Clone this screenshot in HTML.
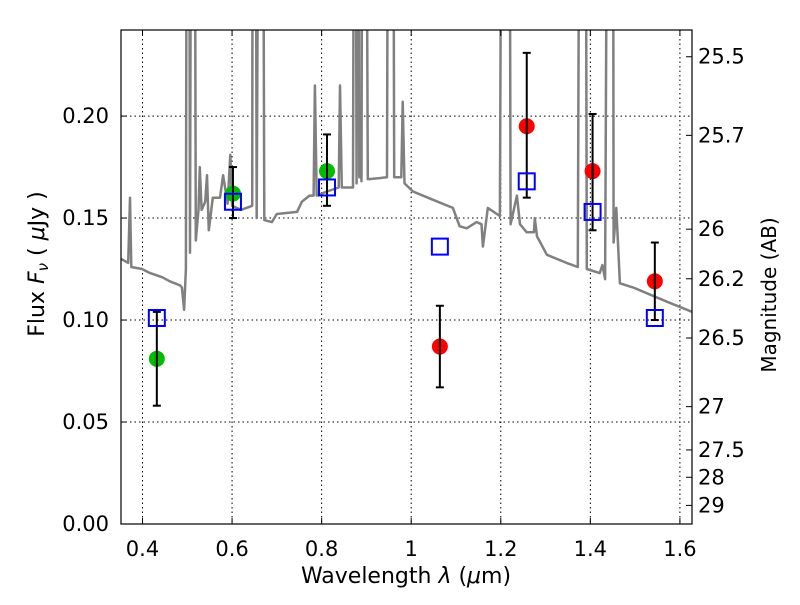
<!DOCTYPE html>
<html><head><meta charset="utf-8"><style>
body{margin:0;background:#fff;}
svg text{font-family:"DejaVu Sans","Liberation Sans",sans-serif;}
</style></head><body>
<svg id="chart" width="800" height="600" xmlns="http://www.w3.org/2000/svg">
<defs><clipPath id="clip"><rect x="121" y="30" width="571" height="494"/></clipPath></defs>
<g id="grid"></g>
<g id="spec" clip-path="url(#clip)"></g>
<g id="marks" clip-path="url(#clip)"></g>
<rect x="121" y="30" width="571" height="494" fill="none" stroke="#000" stroke-width="1.2"/>
<g id="axes"></g>
<text x="406" y="583" font-size="22" text-anchor="middle">Wavelength  <tspan font-style="italic">λ</tspan> (<tspan font-style="italic">μ</tspan>m)</text>
<text transform="translate(44,264) rotate(-90)" font-size="22" text-anchor="middle">Flux  <tspan font-style="italic">F<tspan font-size="15" dy="4">ν</tspan></tspan><tspan dy="-4">  ( </tspan><tspan font-style="italic">μ</tspan>Jy )</text>
<text transform="translate(776,295) rotate(-90)" font-size="20" text-anchor="middle">Magnitude (AB)</text>
</svg>
<script>
const specWave=[0.352,0.368,0.372,0.375,0.399,0.417,0.444,0.461,0.484,0.488,0.493,0.497,0.500,0.503,0.506,0.510,0.515,0.519,0.525,0.528,0.532,0.540,0.544,0.548,0.557,0.573,0.580,0.590,0.596,0.600,0.620,0.645,0.647,0.651,0.655,0.662,0.667,0.672,0.689,0.700,0.745,0.756,0.773,0.782,0.785,0.789,0.812,0.838,0.841,0.845,0.870,0.874,0.878,0.881,0.884,0.886,0.889,0.892,0.897,0.903,0.946,0.950,0.958,0.962,0.978,0.981,0.985,1.004,1.048,1.093,1.108,1.124,1.146,1.157,1.160,1.171,1.198,1.204,1.218,1.222,1.236,1.243,1.258,1.274,1.276,1.281,1.303,1.347,1.372,1.378,1.388,1.392,1.421,1.427,1.433,1.441,1.450,1.452,1.458,1.466,1.495,1.571,1.627];
const specFlux=[0.130,0.128,0.160,0.126,0.125,0.123,0.121,0.119,0.117,0.116,0.105,0.125,0.5,0.5,0.133,0.5,0.5,0.139,0.154,0.175,0.154,0.158,0.171,0.144,0.160,0.160,0.171,0.157,0.181,0.156,0.154,0.156,0.5,0.5,0.150,0.5,0.5,0.149,0.148,0.152,0.153,0.158,0.161,0.161,0.215,0.161,0.163,0.165,0.215,0.165,0.165,0.5,0.167,0.5,0.170,0.183,0.168,0.5,0.5,0.169,0.170,0.5,0.5,0.170,0.170,0.207,0.167,0.163,0.159,0.155,0.146,0.145,0.148,0.147,0.136,0.155,0.151,0.5,0.5,0.147,0.161,0.147,0.143,0.143,0.150,0.141,0.132,0.128,0.126,0.5,0.5,0.125,0.123,0.127,0.120,0.5,0.5,0.138,0.155,0.118,0.116,0.109,0.104];
const greenWave=[0.432,0.602,0.812];
const greenFlux=[0.081,0.162,0.173];
const greenLo=[0.058,0.150,0.156];
const greenHi=[0.104,0.175,0.191];
const redWave=[1.064,1.258,1.405,1.544];
const redFlux=[0.087,0.195,0.173,0.119];
const redLo=[0.067,0.160,0.144,0.100];
const redHi=[0.107,0.231,0.201,0.138];
const modelWave=[0.432,0.602,0.812,1.064,1.258,1.405,1.544];
const modelFlux=[0.101,0.158,0.165,0.136,0.168,0.153,0.101];
const xTicks=[0.4,0.6,0.8,1.0,1.2,1.4,1.6];
const xTickLabels=["0.4","0.6","0.8","1","1.2","1.4","1.6"];
const yTicks=[0,0.05,0.10,0.15,0.20];
const yTickLabels=["0.00","0.05","0.10","0.15","0.20"];
const magTicks=[25.5,25.7,26,26.2,26.5,27,27.5,28,29];
const magTickLabels=["25.5","25.7","26","26.2","26.5","27","27.5","28","29"];

const NS="http://www.w3.org/2000/svg";
const X0=121,X1=692,Y0=524,Y1=30,XMIN=0.352,XMAX=1.627,YMIN=0,YMAX=0.2422;
function sx(v){return X0+(v-XMIN)/(XMAX-XMIN)*(X1-X0);}
function sy(v){return Y0-(v-YMIN)/(YMAX-YMIN)*(Y0-Y1);}
function mk(tag,attrs,parent){const e=document.createElementNS(NS,tag);for(const k in attrs)e.setAttribute(k,attrs[k]);parent.appendChild(e);return e;}
const grid=document.getElementById('grid'),axes=document.getElementById('axes'),spec=document.getElementById('spec'),marks=document.getElementById('marks');

xTicks.forEach((t,i)=>{
  const x=sx(t);
  const g=mk('line',{x1:x,x2:x,y1:Y1,y2:Y0,stroke:'#000','stroke-width':1,'stroke-dasharray':'1.5,3'},grid);
  
  
  const tk=mk('line',{x1:x,x2:x,y1:Y0,y2:Y0-6,stroke:'#000'},axes);
  
  
  const tk2=mk('line',{x1:x,x2:x,y1:Y1,y2:Y1+6,stroke:'#000'},axes);
  
  
  const tx=mk('text',{x:x,y:556,'font-size':21,'text-anchor':'middle'},axes);
  tx.textContent=xTickLabels[i];
  
  
});
yTicks.forEach((t,i)=>{
  const y=sy(t);
  const g=mk('line',{x1:X0,x2:X1,y1:y,y2:y,stroke:'#000','stroke-width':1,'stroke-dasharray':'1.5,3'},grid);
  
  
  const tk=mk('line',{x1:X0,x2:X0+6,y1:y,y2:y,stroke:'#000'},axes);
  
  
  const tx=mk('text',{x:109,y:y+7,'font-size':21,'text-anchor':'end'},axes);
  tx.textContent=yTickLabels[i];
  
  
});
magTicks.forEach((m,i)=>{
  const y=sy(Math.pow(10,(23.9-m)/2.5));
  const tk=mk('line',{x1:X1,x2:X1-6,y1:y,y2:y,stroke:'#000'},axes);
  
  
  const tx=mk('text',{x:698,y:y+7,'font-size':21},axes);
  tx.textContent=magTickLabels[i];
  
  
});

const pts=specWave.map((w,i)=>sx(w).toFixed(1)+','+sy(specFlux[i]).toFixed(1)).join(' ');
const pl=mk('polyline',{points:pts,fill:'none',stroke:'#808080','stroke-width':2.5,'stroke-linejoin':'round'},spec);



function drawPoints(wave,flux,lo,hi,color,name){
  wave.forEach((w,i)=>{
    const x=sx(w);
    const c=mk('circle',{cx:x,cy:sy(flux[i]),r:8,fill:color},marks);
    
    
    const e=mk('g',{stroke:'#000','stroke-width':2},marks);
    
    
    mk('line',{x1:x,x2:x,y1:sy(lo[i]),y2:sy(hi[i])},e);
    mk('line',{x1:x-4,x2:x+4,y1:sy(lo[i]),y2:sy(lo[i])},e);
    mk('line',{x1:x-4,x2:x+4,y1:sy(hi[i]),y2:sy(hi[i])},e);
  });
}
drawPoints(greenWave,greenFlux,greenLo,greenHi,'#00bb00','green-point');
drawPoints(redWave,redFlux,redLo,redHi,'#ff0000','red-point');
modelWave.forEach((w,i)=>{
  const r=mk('rect',{x:sx(w)-8,y:sy(modelFlux[i])-8,width:16,height:16,fill:'none',stroke:'#0000ff','stroke-width':2},marks);
  
  
});
</script>
</body></html>
